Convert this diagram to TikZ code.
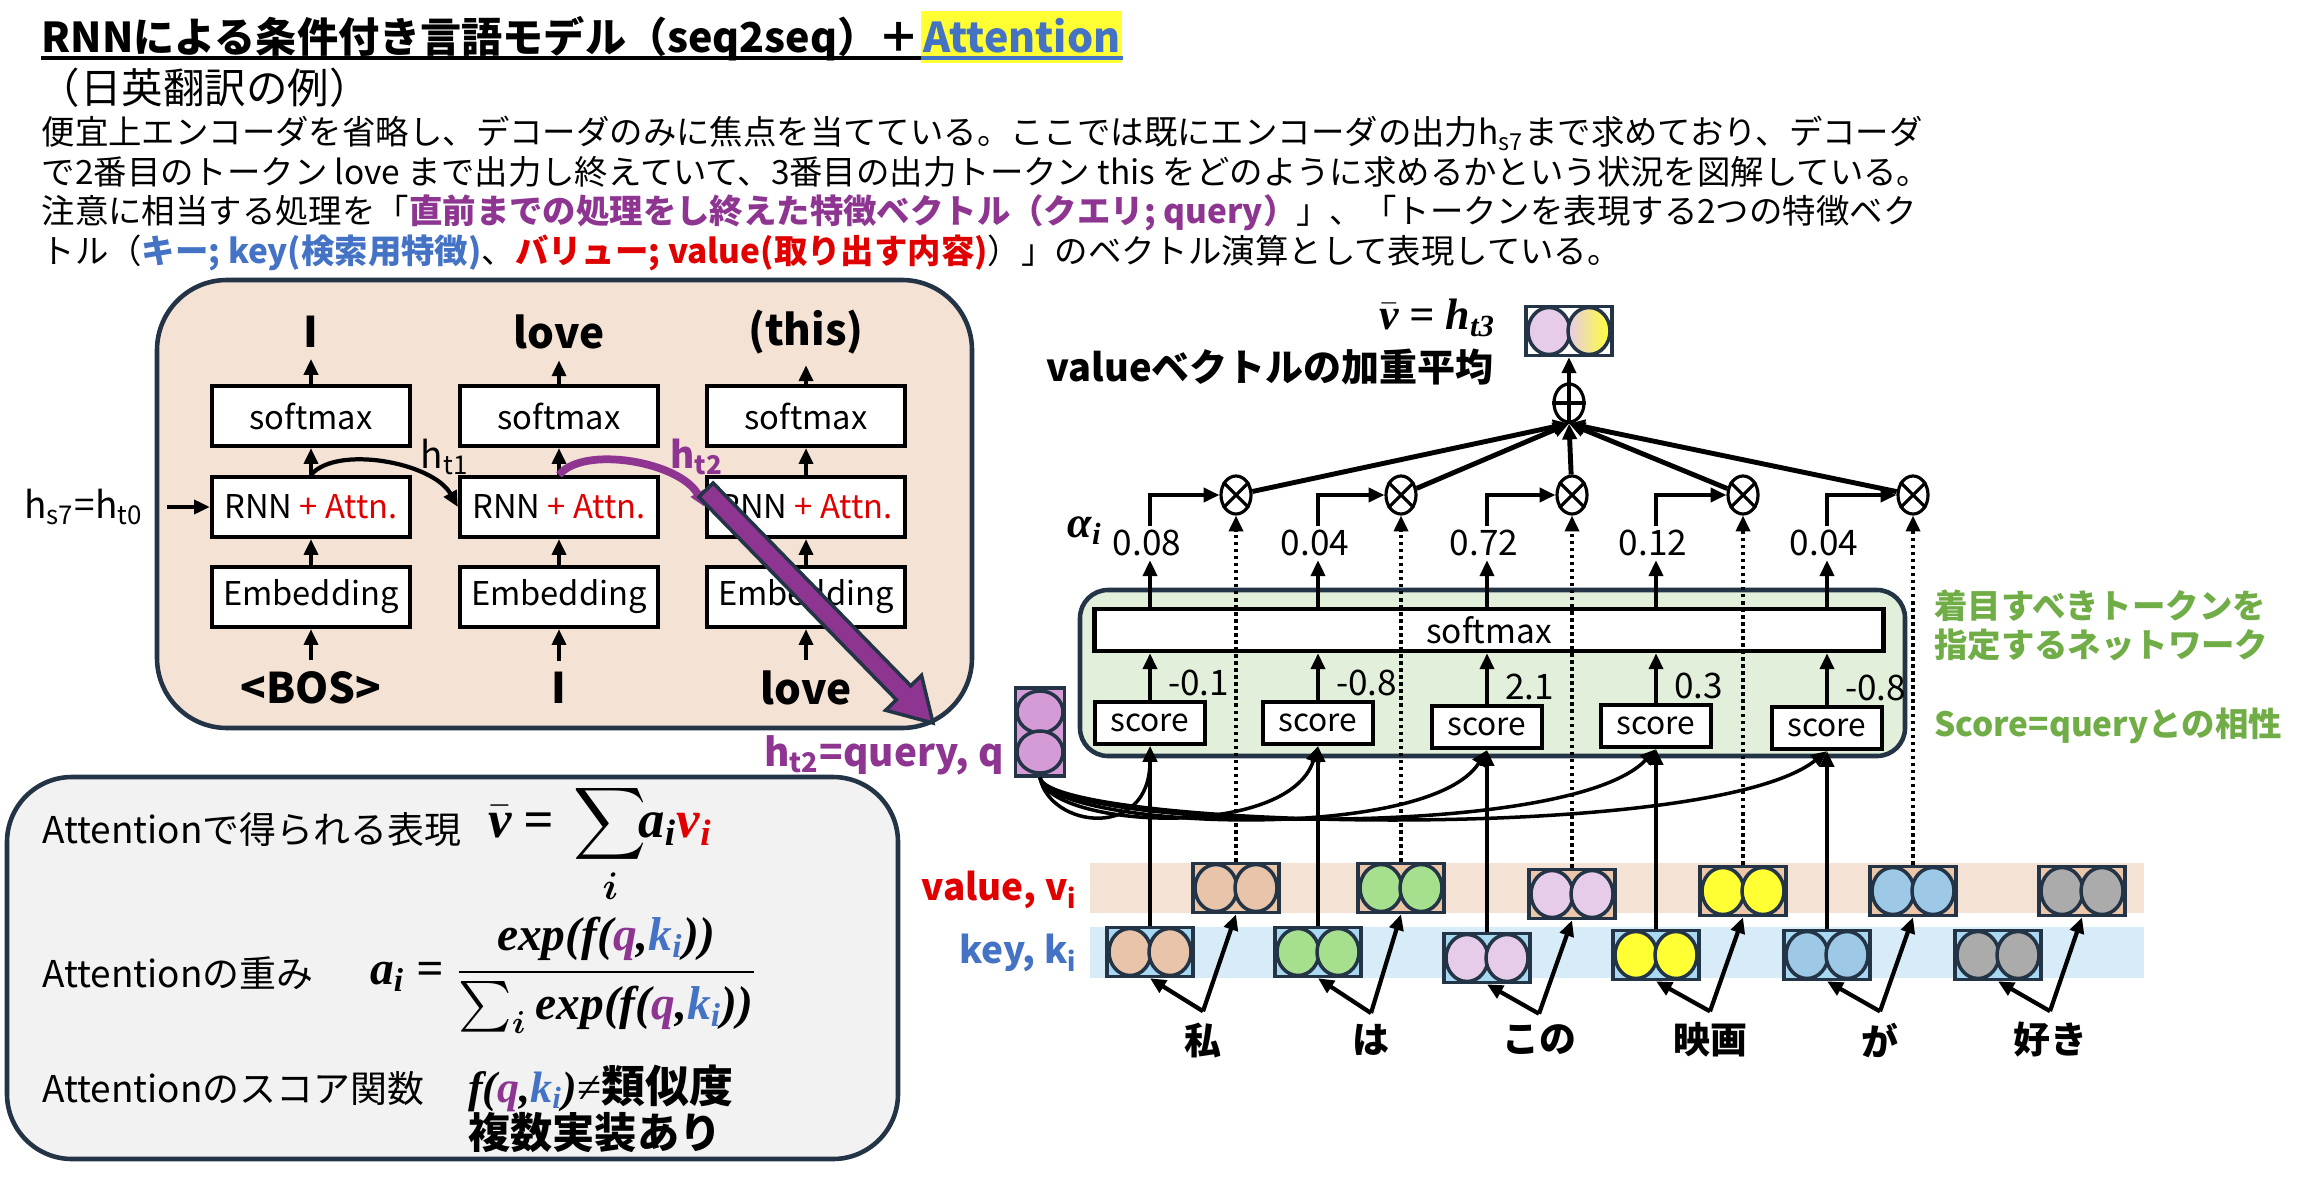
\documentclass[tikz,border=0pt]{standalone}
\usepackage{fontspec}
\setmainfont{Noto Sans CJK JP}
\newfontfamily\fmla{Liberation Serif}
\usepackage{amsmath,bm}
\usepackage{xcolor}
\usetikzlibrary{arrows.meta,shapes.geometric,calc,positioning}
\definecolor{line-dark}{HTML}{243447}
\definecolor{peach-bg}{HTML}{F4E2D5}
\definecolor{green-bg}{HTML}{E2EFDA}
\definecolor{grey-bg}{HTML}{F2F2F2}
\definecolor{key-bg}{HTML}{D7ECF8}
\definecolor{q-purple}{HTML}{8E3592}
\definecolor{q-fill}{HTML}{D49BD6}
\definecolor{k-blue}{HTML}{4472C4}
\definecolor{v-red}{HTML}{E00000}
\definecolor{note-green}{HTML}{70AD47}
\definecolor{hl-yellow}{HTML}{FFFF33}
\definecolor{tok-peach}{HTML}{E8C4AA}
\definecolor{tok-green}{HTML}{A6E08F}
\definecolor{tok-lilac}{HTML}{E7CCEA}
\definecolor{tok-yellow}{HTML}{FFFF33}
\definecolor{tok-blue}{HTML}{9DC8E6}
\definecolor{tok-grey}{HTML}{ABABAB}
\definecolor{v-frame}{HTML}{EBC6A9}
\definecolor{k-frame}{HTML}{A9D9F2}
\newcommand{\fm}[1]{\mbox{\fmla\bfseries\itshape #1}}
\newcommand{\attq}{\textcolor{q-purple}{q}}
\newcommand{\attk}{\textcolor{k-blue}{k\textsubscript{i}}}

\begin{document}
\begin{tikzpicture}[x=0.01cm, y=-0.01cm,
      >={Triangle[length=4.5pt,width=4pt]},
      every node/.style={inner sep=1pt},
      line/.style={->, line width=1pt},
      blk/.style={draw=black, line width=1.2pt, fill=white, minimum width=1.98cm,
                  minimum height=0.6cm, inner sep=0pt, font=\fontsize{9.3}{11}\selectfont},
      word/.style={inner sep=3pt, font=\bfseries\fontsize{12}{14}\selectfont},
      hlab/.style={font=\fontsize{10.5}{12}\selectfont},
      para/.style={anchor=base west, inner sep=0pt, font=\fontsize{9.5}{11}\selectfont},
      panel/.style={draw=line-dark, line width=1.3pt},
      vecbox/.style={draw=line-dark, line width=1pt, minimum width=0.86cm,
                     minimum height=0.49cm, inner sep=0pt},
      vecring/.style={draw=line-dark, line width=1pt},
      opnode/.style={draw, ellipse, line width=0.9pt, fill=white, minimum width=0.3cm,
                     minimum height=0.38cm, inner sep=0pt},
      scorebox/.style={draw, line width=1.2pt, fill=white, minimum width=1.1cm,
                       minimum height=0.42cm, inner sep=0pt, font=\fontsize{9}{11}\selectfont},
      num/.style={font=\fontsize{10}{12}\selectfont},
      note/.style={anchor=west, text=note-green, font=\bfseries\fontsize{9.5}{11}\selectfont},
      formula/.style={font=\fontsize{12.5}{15}\selectfont},
      expl/.style={anchor=west, font=\fontsize{10.5}{12}\selectfont},
      tokword/.style={inner sep=3pt, font=\bfseries\fontsize{10.5}{12}\selectfont}]
  \useasboundingbox (0,0) rectangle (2300,1185);

  % title and explanation
  \node[anchor=base west, inner sep=0pt, font=\bfseries\fontsize{11.7}{14}\selectfont] (title) at (41,53)
       {RNNによる条件付き言語モデル（seq2seq）＋};
  \node[anchor=base west, fill=hl-yellow, text=k-blue, inner xsep=0.5pt, inner ysep=0pt,
        text height=0.42cm, text depth=0.1cm, font=\bfseries\fontsize{11.7}{14}\selectfont] (attn)
       at (title.base east) {Attention};
  \draw[line width=0.9pt] ($(title.base west)+(0,5)$) -- ($(title.base east)+(0,5)$);
  \draw[line width=0.9pt, k-blue] ($(attn.base west)+(0,5)$) -- ($(attn.base east)+(0,5)$);
  \node[anchor=base west, inner sep=0pt, font=\fontsize{11.8}{14}\selectfont] (sub) at (38,104) {（日英翻訳の例）};
  \node[para] (l1) at (41,145) {便宜上エンコーダを省略し、デコーダのみに焦点を当てている。ここでは既にエンコーダの出力h\textsubscript{s7}まで求めており、デコーダ};
  \node[para] (l2) at (41,185) {で2番目のトークン love まで出力し終えていて、3番目の出力トークン this をどのように求めるかという状況を図解している。};
  \node[para] (l3) at (41,224) {注意に相当する処理を「\textcolor{q-purple}{\bfseries 直前までの処理をし終えた特徴ベクトル（クエリ; query）}」、「トークンを表現する2つの特徴ベク};
  \node[para] (l4) at (41,264) {トル（\textcolor{k-blue}{\bfseries キー; key(検索用特徴)}、\textcolor{v-red}{\bfseries バリュー; value(取り出す内容)}）」のベクトル演算として表現している。};

  % decoder panel
  \draw[panel, fill=peach-bg, rounded corners=0.7cm] (157,280) rectangle (972,728);
  \foreach \n/\x/\outw/\inw in {1/311/I/{<BOS>}, 2/559/love/I, 3/806/{(this)}/love}{
    \node[word] (o\n) at (\x,332) {\outw};
    \node[blk] (smx\n) at (\x,416) {softmax};
    \node[blk] (rnn\n) at (\x,507) {RNN \textcolor{v-red}{+ Attn.}};
    \node[blk] (emb\n) at (\x,597) {Embedding};
    \node[word] (inw\n) at (\x,688) {\inw};
    \draw[line] (inw\n) -- (emb\n);
    \draw[line] (emb\n) -- (rnn\n);
    \draw[line] (rnn\n) -- (smx\n);
    \draw[line] (smx\n) -- (o\n);
  }
  \node[hlab] (h0) at (84,507) {h\textsubscript{s7}=h\textsubscript{t0}};
  \coordinate (h0in) at (167,507);
  \draw[line] (h0in) -- (rnn1.west);
  \draw[line, line width=1.2pt] (rnn1.north) .. controls +(25,-30) and +(-25,-45) .. (rnn2.west);
  \node[hlab] (ht1) at (445,457) {h\textsubscript{t1}};
  \draw[->, q-purple, line width=2.2pt] (rnn2.north) .. controls +(25,-30) and +(-25,-45) .. (rnn3.west);
  \node[hlab, text=q-purple, font=\bfseries\fontsize{10.5}{12}\selectfont] (ht2) at (697,457) {h\textsubscript{t2}};

  % formulas
  \draw[panel, fill=grey-bg, rounded corners=0.65cm] (7,777) rectangle (898,1159);
  \node[expl] (x1) at (38,830) {Attentionで得られる表現};
  \node[formula, anchor=base west, font=\fontsize{15}{18}\selectfont] (eq1) at (484,837)
       {$\bar{\fm{v}}\ \fm{=}\ \displaystyle\sum_{\bm{i}}\mkern-6mu \fm{a\textsubscript{i}\textcolor{v-red}{v\textsubscript{i}}}$};
  \node[expl] (x2) at (38,973) {Attentionの重み};
  \node[formula, anchor=west, font=\fontsize{13.5}{16}\selectfont] (eq2) at (366,975)
       {$\fm{a\textsubscript{i} =}\ \dfrac{\fm{exp(f(\attq,\attk))}}{\textstyle\sum_{\bm{i}}\fm{exp(f(\attq,\attk))}}$};
  \node[expl] (x3) at (38,1088) {Attentionのスコア関数};
  \node[formula, anchor=west] (eq3) at (464,1088) {\fm{f(\attq,\attk)}{\fmla ≠}\textbf{類似度}};
  \node[formula, anchor=west, font=\bfseries\fontsize{12}{14}\selectfont] (eq4) at (464,1133) {複数実装あり};

  % key / value rows
  \fill[peach-bg] (1090,863) rectangle (2144,913);
  \fill[key-bg] (1090,927) rectangle (2144,978);
  \node[anchor=east, text=v-red, font=\bfseries\fontsize{10.5}{12}\selectfont] (vlab) at (1082,890) {value, v\textsubscript{i}};
  \node[anchor=east, text=k-blue, font=\bfseries\fontsize{10.5}{12}\selectfont] (klab) at (1082,953) {key, k\textsubscript{i}};
  \foreach \n/\kx/\ky/\vx/\vy/\c in {1/1150/952/1236/888/tok-peach, 2/1318/952/1401/888/tok-green,
      3/1487/958/1572/894/tok-lilac, 4/1656/955/1743/891/tok-yellow,
      5/1827/955/1913/891/tok-blue, 6/1998/955/2082/891/tok-grey}{
    \node[vecbox, fill=k-frame] (k\n) at (\kx,\ky) {};
    \draw[vecring, fill=\c] ([xshift=-0.2cm]k\n.center) ellipse [x radius=0.21cm, y radius=0.235cm];
    \draw[vecring, fill=\c] ([xshift=0.2cm]k\n.center) ellipse [x radius=0.21cm, y radius=0.235cm];
    \node[vecbox, fill=v-frame] (v\n) at (\vx,\vy) {};
    \draw[vecring, fill=\c] ([xshift=-0.2cm]v\n.center) ellipse [x radius=0.21cm, y radius=0.235cm];
    \draw[vecring, fill=\c] ([xshift=0.2cm]v\n.center) ellipse [x radius=0.21cm, y radius=0.235cm];
  }
  \foreach \n/\x/\w in {1/1203/私, 2/1371/は, 3/1539/この, 4/1710/映画, 5/1880/が, 6/2050/好き}{
    \node[tokword] (w\n) at (\x,1040) {\w};
    \draw[line, line width=1.2pt] (w\n.north) -- (k\n.south);
    \draw[line, line width=1.2pt] (w\n.north) -- (v\n.south);
  }

  % score network
  \draw[panel, fill=green-bg, rounded corners=0.28cm] (1080,590) rectangle (1905,756);
  \node[draw, line width=1.3pt, fill=white, minimum width=7.89cm, minimum height=0.42cm,
        inner sep=0pt, font=\fontsize{9.5}{11}\selectfont] (smx) at (1489,630) {softmax};
  \node[note] (n1) at (1930,606) {着目すべきトークンを};
  \node[note] (n2) at (1930,645) {指定するネットワーク};
  \node[note] (n3) at (1930,726) {Score=queryとの相性};

  % query
  \node[anchor=east, text=q-purple, font=\bfseries\fontsize{11}{13}\selectfont] (qlab) at (1008,755)
       {h\textsubscript{t2}=query, q};
  \node[vecbox, minimum width=0.49cm, minimum height=0.88cm, fill=q-fill] (q) at (1040,732) {};
  \draw[vecring, fill=q-fill] ([yshift=0.2cm]q.center) ellipse [x radius=0.23cm, y radius=0.21cm];
  \draw[vecring, fill=q-fill] ([yshift=-0.2cm]q.center) ellipse [x radius=0.23cm, y radius=0.21cm];

  % weighted sum
  \node[formula, anchor=east] (vbar) at (1500,318) {$\bar{\fm{v}}$\fm{ = h\textsubscript{t3}}};
  \node[vecbox, fill=white] (out) at (1569,331) {};
  \draw[vecring, fill=tok-lilac] ([xshift=-0.2cm]out.center) ellipse [x radius=0.21cm, y radius=0.235cm];
  \draw[vecring, left color=tok-lilac, right color=tok-yellow] ([xshift=0.2cm]out.center) ellipse [x radius=0.21cm, y radius=0.235cm];
  \node[font=\bfseries\fontsize{10.8}{13}\selectfont] (wavg) at (1270,367) {valueベクトルの加重平均};
  \node[opnode] (sum) at (1569,403) {};
  \draw[line width=0.9pt] (sum.north) -- (sum.south) (sum.west) -- (sum.east);
  \draw[line] (sum) -- (out);
  \node[formula] (alpha) at (1085,531) {\fm{α\textsubscript{i}}};

  \foreach \n/\x/\y/\s/\a/\mx in {1/1150/723/-0.1/0.08/1236, 2/1318/723/-0.8/0.04/1401,
      3/1487/727/2.1/0.72/1572, 4/1656/726/0.3/0.12/1743, 5/1827/728/-0.8/0.04/1913}{
    \node[scorebox] (s\n) at (\x,\y) {score};
    \node[num, anchor=west] (d\n) at (\x+14,\y-40) {\s};
    \node[num] (p\n) at (\x-3,543) {\a};
    \node[opnode] (m\n) at (\mx,495) {};
    \draw[line width=0.9pt] (m\n.45) -- (m\n.225) (m\n.135) -- (m\n.315);
    \draw[line] (s\n.north) -- (s\n |- smx.south);
    \draw[line] (s\n |- smx.north) -- (s\n |- p\n.south);
    \draw[line] (s\n |- p\n.north) |- (m\n.west);
    \draw[line, line width=1.4pt] (m\n) -- (sum.south);
    \draw[line, densely dotted] (v\n.north) -- (m\n.south);
    \draw[line] (k\n.north) -- (s\n.south);
    \draw[line] (q.south) .. controls +(10,50) and +({-30*(\n-1)},95) .. (s\n.south);
  }

  % h_t2 handed over as query
  \coordinate (qa) at (706,490);
  \coordinate (qb) at (933,723);
  \coordinate (qh) at ($(qa)!2.83cm!(qb)$);
  \filldraw[draw=line-dark, fill=q-purple, line width=1pt]
      ($(qa)!0.1cm!90:(qb)$) -- ($(qh)!0.1cm!90:(qb)$) -- ($(qh)!0.25cm!90:(qb)$) -- (qb)
      -- ($(qh)!0.25cm!-90:(qb)$) -- ($(qh)!0.1cm!-90:(qb)$) -- ($(qa)!0.1cm!-90:(qb)$) -- cycle;
\end{tikzpicture}
\end{document}
